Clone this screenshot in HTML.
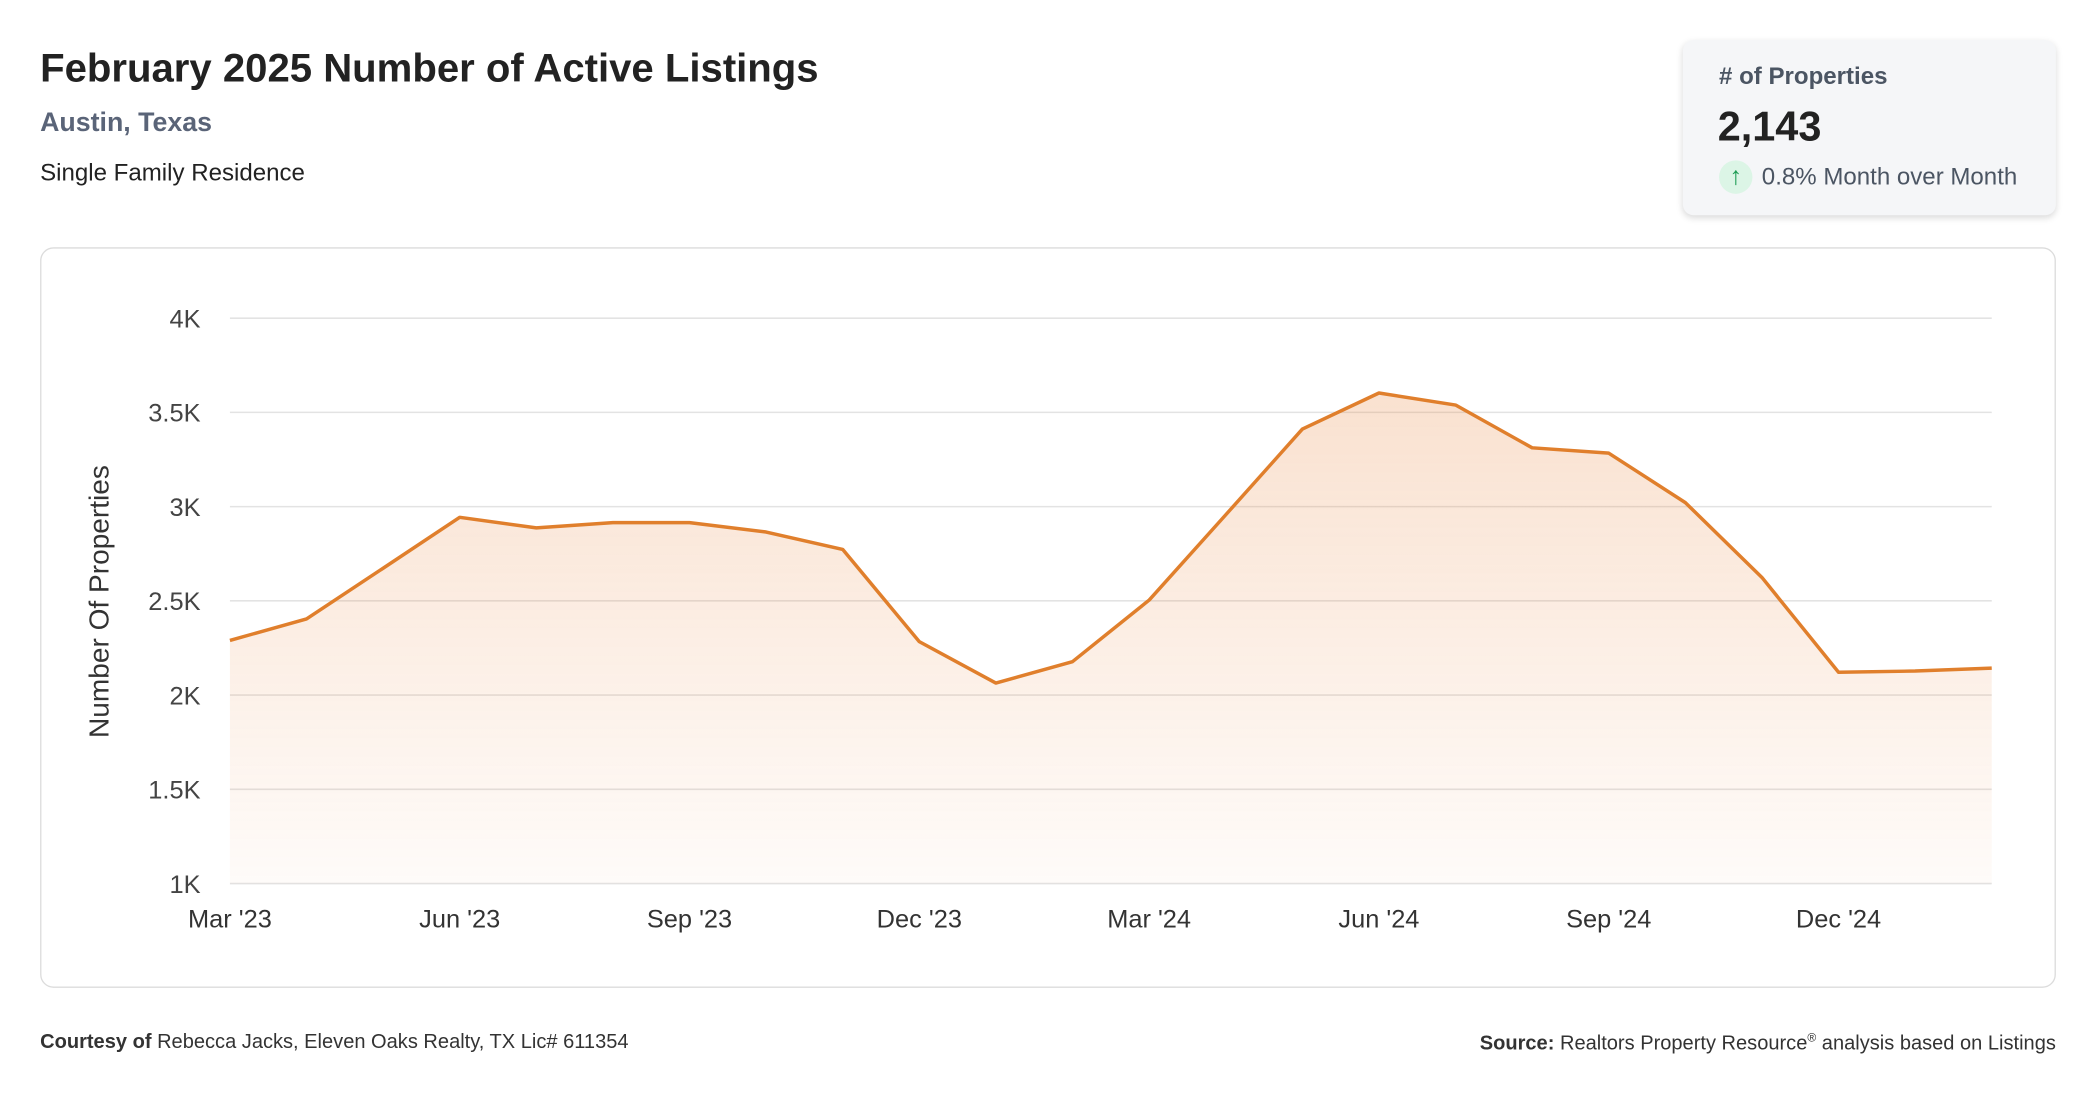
<!DOCTYPE html>
<html><head><meta charset="utf-8">
<style>
html,body{margin:0;padding:0;background:#fff;width:2096px;height:1100px;overflow:hidden}
#root{position:absolute;left:0;top:0;width:1568px;height:823px;transform:scale(1.33673);transform-origin:0 0;font-family:"Liberation Sans",sans-serif;color:#222}
.abs{position:absolute;white-space:nowrap}
</style></head><body>
<div id="root">
<div class="abs" style="left:30px;top:35px;font-size:30px;font-weight:bold;color:#222">February 2025 Number of Active Listings</div>
<div class="abs" style="left:30px;top:81px;font-size:20px;font-weight:bold;color:#5a6478">Austin, Texas</div>
<div class="abs" style="left:30px;top:119px;font-size:18px;color:#222">Single Family Residence</div>

<div class="abs" style="left:1259px;top:30px;width:279px;height:131px;background:#f5f6f8;border-radius:8px;box-shadow:0 2px 5px rgba(0,0,0,0.15)">
  <div class="abs" style="left:27px;top:17px;font-size:18px;font-weight:bold;color:#4b5563"># of Properties</div>
  <div class="abs" style="left:26px;top:47px;font-size:31px;font-weight:bold;color:#222">2,143</div>
  <div class="abs" style="left:27px;top:90px;width:25px;height:25px;border-radius:50%;background:#dcf5e6;color:#1f9d55;font-size:19px;line-height:25px;text-align:center">↑</div>
  <div class="abs" style="left:59px;top:92px;font-size:18px;color:#4b5563">0.8% Month over Month</div>
</div>

<div class="abs" style="left:30px;top:185px;width:1506px;height:552px;border:1px solid #dcdcdc;border-radius:10px"></div>
<svg class="abs" style="left:0;top:0" width="1568" height="823">
<defs><linearGradient id="fillg" x1="0" y1="0" x2="0" y2="1">
<stop offset="0" stop-color="#e8833a" stop-opacity="0.24"/><stop offset="1" stop-color="#e8833a" stop-opacity="0.03"/></linearGradient></defs>
<g id="grid"></g><g id="yt"></g><g id="xt"></g>
<path id="area" fill="url(#fillg)"/>
<path id="line" fill="none" stroke="#e07f2c" stroke-width="2.6" stroke-linejoin="round"/>
<text transform="translate(81,450) rotate(-90)" text-anchor="middle" font-size="21" fill="#333" font-family="Liberation Sans, sans-serif">Number Of Properties</text>
</svg>

<div class="abs" style="left:30px;top:771px;font-size:15px;color:#333"><b>Courtesy of</b> Rebecca Jacks, Eleven Oaks Realty, TX Lic# 611354</div>
<div class="abs" style="right:30px;top:771px;font-size:15px;color:#333"><b>Source:</b> Realtors Property Resource<sup style="font-size:9px">®</sup> analysis based on Listings</div>
</div>
<script>
const months = ["Mar '23","Apr '23","May '23","Jun '23","Jul '23","Aug '23","Sep '23","Oct '23","Nov '23","Dec '23","Jan '24","Feb '24","Mar '24","Apr '24","May '24","Jun '24","Jul '24","Aug '24","Sep '24","Oct '24","Nov '24","Dec '24","Jan '25","Feb '25"];
const listings = [2290,2404,2673,2943,2887,2915,2915,2865,2773,2284,2064,2177,2504,2957,3411,3603,3539,3312,3284,3021,2624,2121,2128,2143];
const yTicks = [1000,1500,2000,2500,3000,3500,4000];
const yTickLabels = ["1K","1.5K","2K","2.5K","3K","3.5K","4K"];
const xTickIdx = [0,3,6,9,12,15,18,21];

const X0=172,X1=1490,Y0=661,Y1=238,VMIN=1000,VMAX=4000;
function xs(i){return X0+(X1-X0)*i/(months.length-1);}
function ys(v){return Y0-(v-VMIN)/(VMAX-VMIN)*(Y0-Y1);}
const NS="http://www.w3.org/2000/svg";
const grid=document.getElementById('grid'),yt=document.getElementById('yt'),xt=document.getElementById('xt');
yTicks.forEach((v,k)=>{
  const l=document.createElementNS(NS,'line');
  
  
  l.setAttribute('x1',X0);l.setAttribute('x2',X1);l.setAttribute('y1',ys(v));l.setAttribute('y2',ys(v));
  l.setAttribute('stroke','#e3e3e3');l.setAttribute('stroke-width','1.2');
  grid.appendChild(l);
  const t=document.createElementNS(NS,'text');
  
  
  t.setAttribute('x',150);t.setAttribute('y',ys(v)+7);t.setAttribute('text-anchor','end');
  t.setAttribute('font-size','19');t.setAttribute('fill','#444');t.setAttribute('font-family','Liberation Sans, sans-serif');
  t.textContent=yTickLabels[k];yt.appendChild(t);
});
xTickIdx.forEach(i=>{
  const t=document.createElementNS(NS,'text');
  
  
  t.setAttribute('x',xs(i));t.setAttribute('y',694);t.setAttribute('text-anchor','middle');
  t.setAttribute('font-size','19');t.setAttribute('fill','#333');t.setAttribute('font-family','Liberation Sans, sans-serif');
  t.textContent=months[i];xt.appendChild(t);
});
let d=listings.map((v,i)=>(i?'L':'M')+xs(i).toFixed(1)+','+ys(v).toFixed(1)).join(' ');
document.getElementById('line').setAttribute('d',d);
document.getElementById('area').setAttribute('d',d+' L'+xs(listings.length-1)+','+Y0+' L'+X0+','+Y0+' Z');
</script>
</body></html>
